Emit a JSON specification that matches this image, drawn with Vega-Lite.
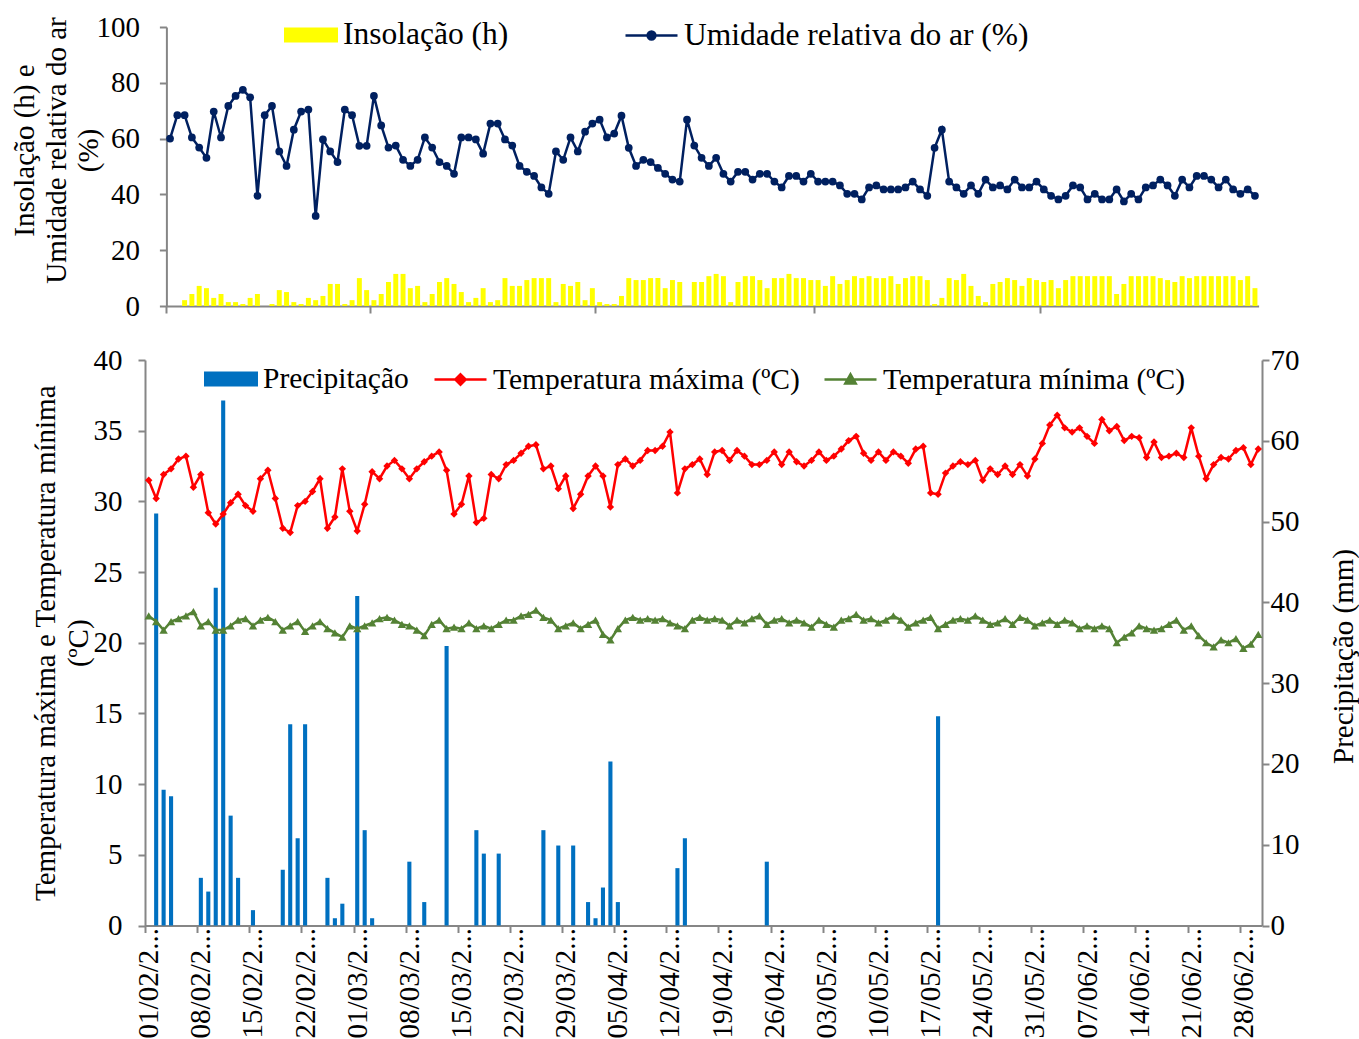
{
"$schema":"https://vega.github.io/schema/vega-lite/v6.json",
"background":"white",
"padding":{"left":10,"top":8,"right":2,"bottom":0},
"config":{"font":"Liberation Serif","view":{"stroke":null},
 "axis":{"domainColor":"#868686","domainWidth":2,"tickColor":"#868686","tickWidth":2,"tickSize":7,"labelFontSize":29,"labelColor":"#000000","titleFontSize":29,"titleColor":"#000000","titleFontWeight":"normal","grid":false,"labelFont":"Liberation Serif","titleFont":"Liberation Serif"}},
"data":{"values":[
{"d":"01/02/2015","ins":0,"ur":60,"pr":0,"tx":31.5,"tn":21.9},
{"d":"02/02/2015","ins":0,"ur":68.4,"pr":51,"tx":30.2,"tn":21.5},
{"d":"03/02/2015","ins":2.1,"ur":68.4,"pr":16.8,"tx":31.9,"tn":20.9},
{"d":"04/02/2015","ins":4.3,"ur":60.4,"pr":16.0,"tx":32.3,"tn":21.5},
{"d":"05/02/2015","ins":7.2,"ur":56.8,"pr":0,"tx":33.0,"tn":21.7},
{"d":"06/02/2015","ins":6.4,"ur":53.1,"pr":0,"tx":33.2,"tn":21.9},
{"d":"07/02/2015","ins":2.9,"ur":69.7,"pr":0,"tx":31.0,"tn":22.2},
{"d":"08/02/2015","ins":4.3,"ur":60.4,"pr":5.9,"tx":31.9,"tn":21.2},
{"d":"09/02/2015","ins":1.4,"ur":71.7,"pr":4.2,"tx":29.2,"tn":21.5},
{"d":"10/02/2015","ins":1.4,"ur":75.3,"pr":41.8,"tx":28.4,"tn":20.9},
{"d":"11/02/2015","ins":0.7,"ur":77.5,"pr":65,"tx":29.1,"tn":20.9},
{"d":"12/02/2015","ins":2.9,"ur":74.8,"pr":13.6,"tx":29.9,"tn":21.2},
{"d":"13/02/2015","ins":4.3,"ur":39.5,"pr":5.9,"tx":30.5,"tn":21.6},
{"d":"14/02/2015","ins":0,"ur":68.4,"pr":0,"tx":29.7,"tn":21.7},
{"d":"15/02/2015","ins":0.7,"ur":71.7,"pr":1.9,"tx":29.3,"tn":21.2},
{"d":"16/02/2015","ins":5.7,"ur":55.4,"pr":0,"tx":31.6,"tn":21.6},
{"d":"17/02/2015","ins":5.0,"ur":50.2,"pr":0,"tx":32.2,"tn":21.8},
{"d":"18/02/2015","ins":1.4,"ur":63.2,"pr":0,"tx":30.2,"tn":21.5},
{"d":"19/02/2015","ins":0.7,"ur":69.7,"pr":6.9,"tx":28.1,"tn":20.9},
{"d":"20/02/2015","ins":2.9,"ur":70.4,"pr":24.9,"tx":27.8,"tn":21.2},
{"d":"21/02/2015","ins":2.1,"ur":32.3,"pr":10.8,"tx":29.7,"tn":21.5},
{"d":"22/02/2015","ins":3.6,"ur":59.7,"pr":24.9,"tx":30.0,"tn":20.8},
{"d":"23/02/2015","ins":7.9,"ur":55.4,"pr":0,"tx":30.7,"tn":21.2},
{"d":"24/02/2015","ins":7.9,"ur":51.6,"pr":0,"tx":31.6,"tn":21.5},
{"d":"25/02/2015","ins":0.7,"ur":70.4,"pr":5.9,"tx":28.1,"tn":21.0},
{"d":"26/02/2015","ins":2.1,"ur":68.4,"pr":0.9,"tx":28.9,"tn":20.7},
{"d":"27/02/2015","ins":10.0,"ur":57.4,"pr":2.7,"tx":32.3,"tn":20.4},
{"d":"28/02/2015","ins":5.7,"ur":57.4,"pr":0,"tx":29.3,"tn":21.2},
{"d":"01/03/2015","ins":2.1,"ur":75.3,"pr":40.8,"tx":27.9,"tn":21.0},
{"d":"02/03/2015","ins":4.3,"ur":64.7,"pr":11.8,"tx":29.8,"tn":21.2},
{"d":"03/03/2015","ins":8.6,"ur":56.8,"pr":0.9,"tx":32.1,"tn":21.4},
{"d":"04/03/2015","ins":11.5,"ur":57.5,"pr":0,"tx":31.6,"tn":21.7},
{"d":"05/03/2015","ins":11.5,"ur":52.4,"pr":0,"tx":32.5,"tn":21.8},
{"d":"06/03/2015","ins":6.4,"ur":50.2,"pr":0,"tx":32.9,"tn":21.6},
{"d":"07/03/2015","ins":7.2,"ur":52.4,"pr":0,"tx":32.3,"tn":21.3},
{"d":"08/03/2015","ins":1.4,"ur":60.4,"pr":7.9,"tx":31.6,"tn":21.2},
{"d":"09/03/2015","ins":4.3,"ur":56.8,"pr":0,"tx":32.3,"tn":20.9},
{"d":"10/03/2015","ins":8.6,"ur":51.6,"pr":2.9,"tx":32.8,"tn":20.5},
{"d":"11/03/2015","ins":10.0,"ur":50.2,"pr":0,"tx":33.2,"tn":21.3},
{"d":"12/03/2015","ins":7.9,"ur":47.4,"pr":0,"tx":33.5,"tn":21.6},
{"d":"13/03/2015","ins":5.0,"ur":60.4,"pr":34.6,"tx":32.2,"tn":21.0},
{"d":"14/03/2015","ins":1.4,"ur":60.4,"pr":0,"tx":29.1,"tn":21.1},
{"d":"15/03/2015","ins":2.9,"ur":59.7,"pr":0,"tx":29.8,"tn":21.0},
{"d":"16/03/2015","ins":6.4,"ur":54.6,"pr":0,"tx":31.8,"tn":21.4},
{"d":"17/03/2015","ins":1.4,"ur":65.4,"pr":11.8,"tx":28.5,"tn":21.0},
{"d":"18/03/2015","ins":2.1,"ur":65.4,"pr":8.9,"tx":28.8,"tn":21.2},
{"d":"19/03/2015","ins":10.0,"ur":59.7,"pr":0,"tx":31.9,"tn":21.0},
{"d":"20/03/2015","ins":7.2,"ur":57.5,"pr":8.9,"tx":31.6,"tn":21.3},
{"d":"21/03/2015","ins":7.2,"ur":50.2,"pr":0,"tx":32.6,"tn":21.6},
{"d":"22/03/2015","ins":9.3,"ur":48.1,"pr":0,"tx":32.9,"tn":21.6},
{"d":"23/03/2015","ins":10.0,"ur":46.6,"pr":0,"tx":33.4,"tn":21.9},
{"d":"24/03/2015","ins":10.0,"ur":42.5,"pr":0,"tx":33.9,"tn":22.0},
{"d":"25/03/2015","ins":10.0,"ur":40.2,"pr":0,"tx":34.0,"tn":22.3},
{"d":"26/03/2015","ins":1.4,"ur":55.4,"pr":11.8,"tx":32.3,"tn":21.8},
{"d":"27/03/2015","ins":7.9,"ur":52.4,"pr":0,"tx":32.5,"tn":21.6},
{"d":"28/03/2015","ins":7.2,"ur":60.4,"pr":9.9,"tx":30.9,"tn":21.0},
{"d":"29/03/2015","ins":8.6,"ur":55.4,"pr":0,"tx":31.8,"tn":21.2},
{"d":"30/03/2015","ins":2.1,"ur":62.5,"pr":9.9,"tx":29.5,"tn":21.4},
{"d":"31/03/2015","ins":6.4,"ur":65.4,"pr":0,"tx":30.5,"tn":21.0},
{"d":"01/04/2015","ins":1.4,"ur":66.8,"pr":2.9,"tx":31.8,"tn":21.3},
{"d":"02/04/2015","ins":0.7,"ur":60.4,"pr":0.9,"tx":32.5,"tn":21.6},
{"d":"03/04/2015","ins":0.7,"ur":61.8,"pr":4.7,"tx":31.8,"tn":20.6},
{"d":"04/04/2015","ins":3.6,"ur":68.2,"pr":20.3,"tx":29.6,"tn":20.2},
{"d":"05/04/2015","ins":10.0,"ur":56.7,"pr":2.9,"tx":32.6,"tn":21.0},
{"d":"06/04/2015","ins":9.3,"ur":50.2,"pr":0,"tx":33.0,"tn":21.6},
{"d":"07/04/2015","ins":9.3,"ur":52.4,"pr":0,"tx":32.5,"tn":21.8},
{"d":"08/04/2015","ins":10.0,"ur":51.6,"pr":0,"tx":32.9,"tn":21.6},
{"d":"09/04/2015","ins":10.0,"ur":49.5,"pr":0,"tx":33.6,"tn":21.7},
{"d":"10/04/2015","ins":6.4,"ur":47.4,"pr":0,"tx":33.6,"tn":21.6},
{"d":"11/04/2015","ins":9.3,"ur":45.3,"pr":0,"tx":33.9,"tn":21.7},
{"d":"12/04/2015","ins":8.6,"ur":44.6,"pr":0,"tx":34.9,"tn":21.4},
{"d":"13/04/2015","ins":0,"ur":66.8,"pr":7.1,"tx":30.6,"tn":21.2},
{"d":"14/04/2015","ins":8.6,"ur":57.5,"pr":10.8,"tx":32.3,"tn":21.0},
{"d":"15/04/2015","ins":8.6,"ur":53.1,"pr":0,"tx":32.6,"tn":21.6},
{"d":"16/04/2015","ins":10.7,"ur":50.2,"pr":0,"tx":33.0,"tn":21.8},
{"d":"17/04/2015","ins":11.5,"ur":53.1,"pr":0,"tx":31.9,"tn":21.6},
{"d":"18/04/2015","ins":10.7,"ur":47.4,"pr":0,"tx":33.5,"tn":21.7},
{"d":"19/04/2015","ins":1.4,"ur":44.6,"pr":0,"tx":33.6,"tn":21.6},
{"d":"20/04/2015","ins":8.6,"ur":48.1,"pr":0,"tx":32.9,"tn":21.2},
{"d":"21/04/2015","ins":10.7,"ur":48.1,"pr":0,"tx":33.6,"tn":21.6},
{"d":"22/04/2015","ins":10.7,"ur":45.3,"pr":0,"tx":33.2,"tn":21.4},
{"d":"23/04/2015","ins":9.3,"ur":47.4,"pr":0,"tx":32.6,"tn":21.7},
{"d":"24/04/2015","ins":6.4,"ur":47.4,"pr":0,"tx":32.6,"tn":21.9},
{"d":"25/04/2015","ins":10.0,"ur":44.6,"pr":7.9,"tx":32.9,"tn":21.3},
{"d":"26/04/2015","ins":10.0,"ur":42.5,"pr":0,"tx":33.5,"tn":21.6},
{"d":"27/04/2015","ins":11.5,"ur":46.6,"pr":0,"tx":32.6,"tn":21.7},
{"d":"28/04/2015","ins":10.0,"ur":46.6,"pr":0,"tx":33.5,"tn":21.4},
{"d":"29/04/2015","ins":10.0,"ur":44.6,"pr":0,"tx":32.8,"tn":21.6},
{"d":"30/04/2015","ins":9.3,"ur":47.4,"pr":0,"tx":32.5,"tn":21.4},
{"d":"01/05/2015","ins":9.3,"ur":44.6,"pr":0,"tx":32.9,"tn":21.1},
{"d":"02/05/2015","ins":7.2,"ur":44.6,"pr":0,"tx":33.5,"tn":21.6},
{"d":"03/05/2015","ins":10.7,"ur":44.6,"pr":0,"tx":32.9,"tn":21.3},
{"d":"04/05/2015","ins":7.9,"ur":43.2,"pr":0,"tx":33.2,"tn":21.1},
{"d":"05/05/2015","ins":9.3,"ur":40.2,"pr":0,"tx":33.7,"tn":21.6},
{"d":"06/05/2015","ins":10.7,"ur":40.2,"pr":0,"tx":34.3,"tn":21.7},
{"d":"07/05/2015","ins":10.0,"ur":38.2,"pr":0,"tx":34.6,"tn":22.0},
{"d":"08/05/2015","ins":10.7,"ur":42.5,"pr":0,"tx":33.4,"tn":21.6},
{"d":"09/05/2015","ins":10.0,"ur":43.2,"pr":0,"tx":32.9,"tn":21.7},
{"d":"10/05/2015","ins":10.0,"ur":41.8,"pr":0,"tx":33.5,"tn":21.4},
{"d":"11/05/2015","ins":10.7,"ur":41.8,"pr":0,"tx":32.9,"tn":21.6},
{"d":"12/05/2015","ins":7.9,"ur":41.8,"pr":0,"tx":33.5,"tn":21.9},
{"d":"13/05/2015","ins":10.0,"ur":42.5,"pr":0,"tx":33.2,"tn":21.6},
{"d":"14/05/2015","ins":10.7,"ur":44.6,"pr":0,"tx":32.7,"tn":21.1},
{"d":"15/05/2015","ins":10.7,"ur":41.8,"pr":0,"tx":33.7,"tn":21.4},
{"d":"16/05/2015","ins":9.3,"ur":39.5,"pr":0,"tx":33.9,"tn":21.6},
{"d":"17/05/2015","ins":0.7,"ur":56.7,"pr":0,"tx":30.6,"tn":21.8},
{"d":"18/05/2015","ins":2.9,"ur":63.2,"pr":25.9,"tx":30.5,"tn":21.0},
{"d":"19/05/2015","ins":10.0,"ur":44.6,"pr":0,"tx":32.0,"tn":21.3},
{"d":"20/05/2015","ins":9.3,"ur":42.5,"pr":0,"tx":32.5,"tn":21.6},
{"d":"21/05/2015","ins":11.5,"ur":40.2,"pr":0,"tx":32.8,"tn":21.7},
{"d":"22/05/2015","ins":7.2,"ur":43.2,"pr":0,"tx":32.6,"tn":21.6},
{"d":"23/05/2015","ins":3.6,"ur":40.2,"pr":0,"tx":32.9,"tn":21.9},
{"d":"24/05/2015","ins":1.4,"ur":45.3,"pr":0,"tx":31.5,"tn":21.6},
{"d":"25/05/2015","ins":7.9,"ur":42.5,"pr":0,"tx":32.3,"tn":21.3},
{"d":"26/05/2015","ins":8.6,"ur":43.2,"pr":0,"tx":31.9,"tn":21.4},
{"d":"27/05/2015","ins":10.0,"ur":41.8,"pr":0,"tx":32.5,"tn":21.7},
{"d":"28/05/2015","ins":9.3,"ur":45.3,"pr":0,"tx":31.9,"tn":21.3},
{"d":"29/05/2015","ins":7.2,"ur":42.5,"pr":0,"tx":32.6,"tn":21.8},
{"d":"30/05/2015","ins":10.0,"ur":42.5,"pr":0,"tx":31.8,"tn":21.6},
{"d":"31/05/2015","ins":9.3,"ur":44.6,"pr":0,"tx":33.0,"tn":21.2},
{"d":"01/06/2015","ins":8.6,"ur":41.8,"pr":0,"tx":34.1,"tn":21.4},
{"d":"02/06/2015","ins":9.3,"ur":39.5,"pr":0,"tx":35.4,"tn":21.6},
{"d":"03/06/2015","ins":6.4,"ur":38.2,"pr":0,"tx":36.1,"tn":21.3},
{"d":"04/06/2015","ins":9.3,"ur":39.5,"pr":0,"tx":35.2,"tn":21.6},
{"d":"05/06/2015","ins":10.7,"ur":43.2,"pr":0,"tx":34.9,"tn":21.4},
{"d":"06/06/2015","ins":10.7,"ur":42.5,"pr":0,"tx":35.2,"tn":21.0},
{"d":"07/06/2015","ins":10.7,"ur":38.2,"pr":0,"tx":34.6,"tn":21.2},
{"d":"08/06/2015","ins":10.7,"ur":40.2,"pr":0,"tx":34.1,"tn":21.0},
{"d":"09/06/2015","ins":10.7,"ur":38.2,"pr":0,"tx":35.8,"tn":21.2},
{"d":"10/06/2015","ins":10.7,"ur":38.2,"pr":0,"tx":35.0,"tn":21.0},
{"d":"11/06/2015","ins":4.3,"ur":41.8,"pr":0,"tx":35.3,"tn":20.0},
{"d":"12/06/2015","ins":7.9,"ur":37.5,"pr":0,"tx":34.3,"tn":20.4},
{"d":"13/06/2015","ins":10.7,"ur":40.2,"pr":0,"tx":34.6,"tn":20.7},
{"d":"14/06/2015","ins":10.7,"ur":38.2,"pr":0,"tx":34.5,"tn":21.2},
{"d":"15/06/2015","ins":10.7,"ur":42.5,"pr":0,"tx":33.1,"tn":21.0},
{"d":"16/06/2015","ins":10.7,"ur":43.2,"pr":0,"tx":34.2,"tn":20.9},
{"d":"17/06/2015","ins":10.0,"ur":45.3,"pr":0,"tx":33.1,"tn":21.0},
{"d":"18/06/2015","ins":9.3,"ur":43.2,"pr":0,"tx":33.2,"tn":21.3},
{"d":"19/06/2015","ins":8.6,"ur":39.5,"pr":0,"tx":33.4,"tn":21.6},
{"d":"20/06/2015","ins":10.7,"ur":45.3,"pr":0,"tx":33.1,"tn":20.9},
{"d":"21/06/2015","ins":10.0,"ur":42.5,"pr":0,"tx":35.2,"tn":21.2},
{"d":"22/06/2015","ins":10.7,"ur":46.6,"pr":0,"tx":33.2,"tn":20.5},
{"d":"23/06/2015","ins":10.7,"ur":46.6,"pr":0,"tx":31.6,"tn":20.0},
{"d":"24/06/2015","ins":10.7,"ur":45.3,"pr":0,"tx":32.6,"tn":19.7},
{"d":"25/06/2015","ins":10.7,"ur":42.5,"pr":0,"tx":33.1,"tn":20.2},
{"d":"26/06/2015","ins":10.7,"ur":45.3,"pr":0,"tx":33.0,"tn":20.0},
{"d":"27/06/2015","ins":10.7,"ur":41.8,"pr":0,"tx":33.6,"tn":20.3},
{"d":"28/06/2015","ins":9.3,"ur":40.2,"pr":0,"tx":33.8,"tn":19.6},
{"d":"29/06/2015","ins":10.7,"ur":41.8,"pr":0,"tx":32.6,"tn":19.9},
{"d":"30/06/2015","ins":6.4,"ur":39.5,"pr":0,"tx":33.7,"tn":20.6}
]},
"spacing":25,
"resolve":{"scale":{"x":"independent","y":"independent","color":"independent"}},
"vconcat":[
{"width":1117,"height":279,
 "encoding":{"x":{"field":"d","type":"ordinal","sort":null,"scale":{"range":[21.4,1113.6],"paddingInner":0,"paddingOuter":0},"axis":{"title":null,"labels":false,"values":["01/02/2015","01/03/2015","01/04/2015","01/05/2015","01/06/2015"],"bandPosition":0}}},
 "layer":[
  {"mark":{"type":"bar","width":{"band":0.68}},
   "encoding":{"y":{"field":"ins","type":"quantitative","scale":{"domain":[0,100],"nice":false},"axis":{"values":[0,20,40,60,80,100],"title":["Insolação (h) e","Umidade relativa do ar","(%)"],"offset":-21.4,"labelPadding":20,"titlePadding":-8,"titleLineHeight":32,"titleY":123}},
    "color":{"datum":"Insolação (h)","scale":{"range":["#FFFF00"]},"legend":{"orient":"none","legendX":139,"legendY":-19,"title":null,"labelFontSize":31.5,"labelFont":"Liberation Serif","labelColor":"#000000","labelOffset":5,"padding":0,"labelLimit":800,"symbolSize":2916,"symbolType":"M-1,-0.28H1V0.28H-1Z","encode":{"symbols":{"update":{"fill":{"value":"#FFFF00"},"stroke":{"value":"#FFFF00"},"strokeWidth":{"value":0},"opacity":{"value":1}}}}}}}},
  {"mark":{"type":"line","strokeWidth":2.5,"point":{"filled":true,"size":60}},
   "encoding":{"y":{"field":"ur","type":"quantitative","scale":{"domain":[0,100],"nice":false},"axis":{"values":[0,20,40,60,80,100],"title":["Insolação (h) e","Umidade relativa do ar","(%)"],"offset":-21.4,"labelPadding":20,"titlePadding":-8,"titleLineHeight":32,"titleY":123}},
    "color":{"datum":"Umidade relativa do ar (%)","scale":{"range":["#002060"]},"legend":{"orient":"none","legendX":479,"legendY":-19,"title":null,"labelFontSize":31.5,"labelFont":"Liberation Serif","labelColor":"#000000","labelOffset":5,"padding":0,"labelLimit":800,"symbolSize":2704,"symbolType":"M-1,0H1M-0.15,0A0.15,0.15,0,1,0,0.15,0A0.15,0.15,0,1,0,-0.15,0Z","encode":{"symbols":{"update":{"fill":{"value":"#002060"},"stroke":{"value":"#002060"},"strokeWidth":{"value":2.5},"opacity":{"value":1}}}}}}}}
 ],
 "resolve":{"scale":{"color":"independent"}}},
{"width":1117,"height":565.5,
 "encoding":{"x":{"field":"d","type":"ordinal","sort":null,"scale":{"paddingInner":0,"paddingOuter":0},"axis":{"title":null,"values":["01/02/2015","08/02/2015","15/02/2015","22/02/2015","01/03/2015","08/03/2015","15/03/2015","22/03/2015","29/03/2015","05/04/2015","12/04/2015","19/04/2015","26/04/2015","03/05/2015","10/05/2015","17/05/2015","24/05/2015","31/05/2015","07/06/2015","14/06/2015","21/06/2015","28/06/2015"],"labelAngle":-90,"labelExpr":"slice(datum.label,0,7)+'...'","labelPadding":-5,"tickOffset":-3.72,"labelOffset":3.72}}},
 "layer":[
  {"mark":{"type":"bar","width":{"band":0.55}},
   "encoding":{"y":{"field":"pr","type":"quantitative","scale":{"domain":[0,70],"nice":false},"axis":{"orient":"right","values":[0,10,20,30,40,50,60,70],"title":"Precipitação (mm)","titleAngle":270,"titleBaseline":"top","titlePadding":30,"titleY":296,"labelPadding":1}},
    "color":{"datum":"Precipitação","scale":{"range":["#0070C0"]},"legend":{"orient":"none","legendX":59,"legendY":-8,"title":null,"labelFontSize":29.5,"labelFont":"Liberation Serif","labelColor":"#000000","labelOffset":5,"padding":0,"labelLimit":800,"symbolSize":2916,"symbolType":"M-1,-0.28H1V0.28H-1Z","encode":{"symbols":{"update":{"fill":{"value":"#0070C0"},"stroke":{"value":"#0070C0"},"strokeWidth":{"value":0},"opacity":{"value":1}}}}}}}},
  {"layer":[
    {"mark":{"type":"line","strokeWidth":2.5,"point":{"filled":true,"size":55,"shape":"diamond"}},
     "encoding":{"y":{"field":"tx","type":"quantitative","scale":{"domain":[0,40],"nice":false},"axis":{"orient":"left","values":[0,5,10,15,20,25,30,35,40],"title":["Temperatura máxima e Temperatura mínima","(ºC)"],"labelPadding":16,"titlePadding":0,"titleLineHeight":33}},
      "color":{"datum":"Temperatura máxima (ºC)","scale":{"range":["#FF0000"]},"legend":{"orient":"none","legendX":288,"legendY":-8,"title":null,"labelFontSize":29.5,"labelFont":"Liberation Serif","labelColor":"#000000","labelOffset":5,"padding":0,"labelLimit":800,"symbolSize":2704,"symbolType":"M-1,0H1M0,-0.2L0.2,0L0,0.2L-0.2,0Z","encode":{"symbols":{"update":{"fill":{"value":"#FF0000"},"stroke":{"value":"#FF0000"},"strokeWidth":{"value":2.5},"opacity":{"value":1}}}}}}}},
    {"mark":{"type":"line","strokeWidth":2.5,"point":{"filled":true,"size":70,"shape":"triangle-up"}},
     "encoding":{"y":{"field":"tn","type":"quantitative","scale":{"domain":[0,40],"nice":false},"axis":{"orient":"left","values":[0,5,10,15,20,25,30,35,40],"title":["Temperatura máxima e Temperatura mínima","(ºC)"],"labelPadding":16,"titlePadding":0,"titleLineHeight":33}},
      "color":{"datum":"Temperatura mínima (ºC)","scale":{"range":["#548235"]},"legend":{"orient":"none","legendX":678,"legendY":-8,"title":null,"labelFontSize":29.5,"labelFont":"Liberation Serif","labelColor":"#000000","labelOffset":5,"padding":0,"labelLimit":800,"symbolSize":2704,"symbolType":"M-1,0H1M0,-0.2L0.2,0.15L-0.2,0.15Z","encode":{"symbols":{"update":{"fill":{"value":"#548235"},"stroke":{"value":"#548235"},"strokeWidth":{"value":2.5},"opacity":{"value":1}}}}}}}}
   ],
   "resolve":{"scale":{"color":"independent"}}}
 ],
 "resolve":{"scale":{"y":"independent","color":"independent"}}}
]
}
